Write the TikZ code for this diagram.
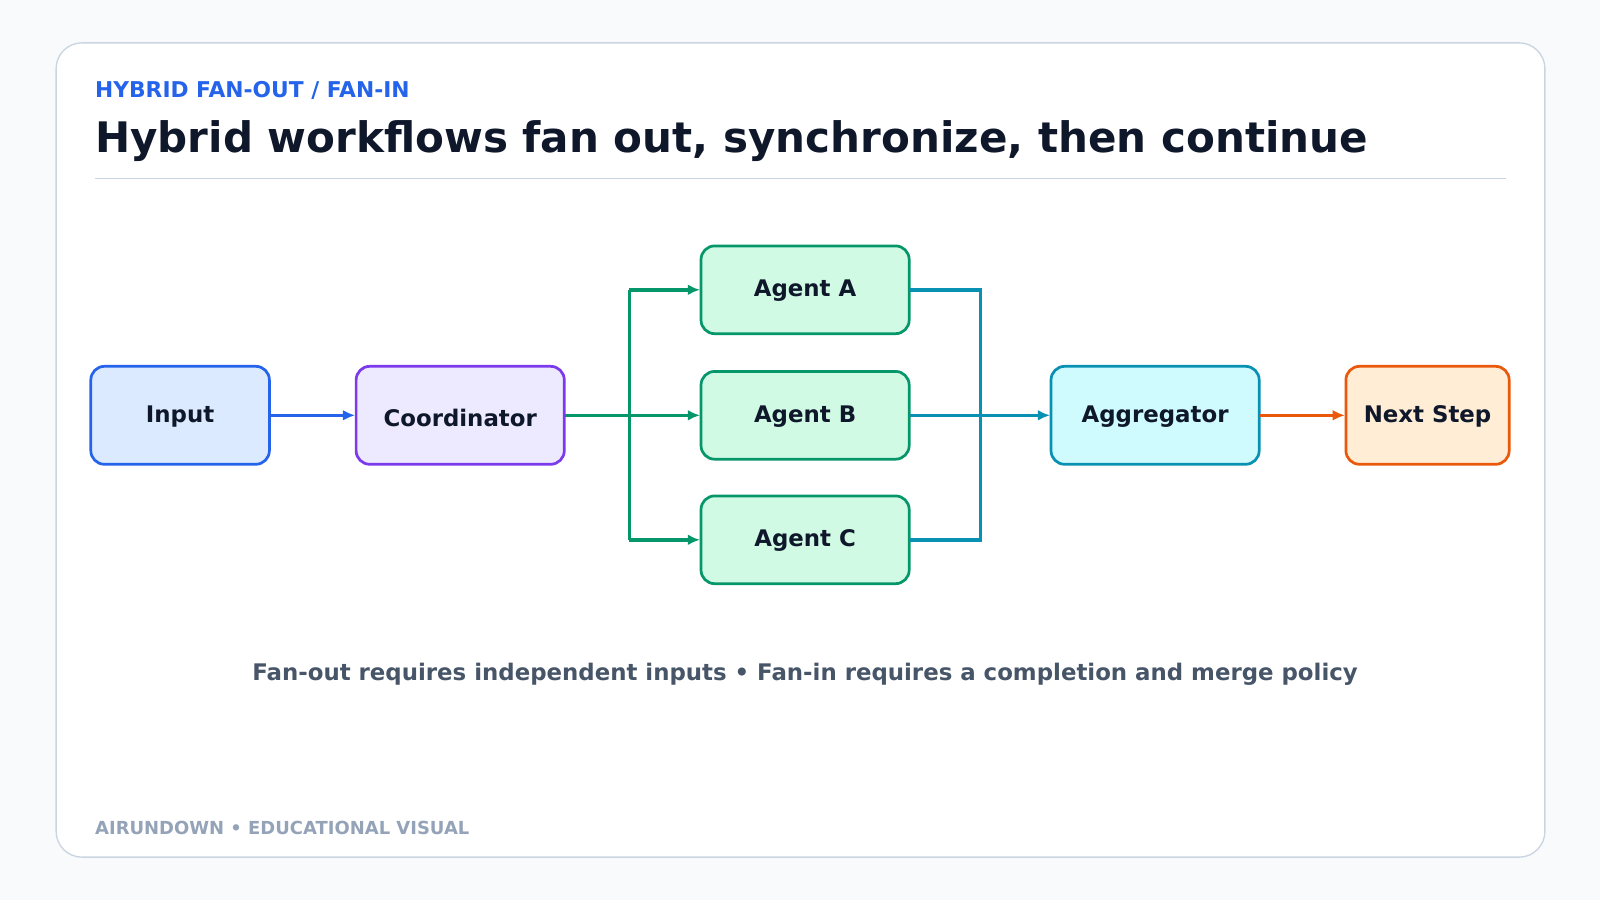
\documentclass[tikz,border=0pt]{standalone}
\usepackage{fontspec}
\setmainfont{DejaVu Sans}
\usetikzlibrary{arrows.meta}
\definecolor{bg}{HTML}{F8FAFC}
\definecolor{bord}{HTML}{CBD5E1}
\definecolor{blu}{HTML}{2563EB}
\definecolor{bluf}{HTML}{DBEAFE}
\definecolor{pur}{HTML}{7C3AED}
\definecolor{purf}{HTML}{EDE9FE}
\definecolor{grn}{HTML}{059669}
\definecolor{grnf}{HTML}{D1FAE5}
\definecolor{tea}{HTML}{0891B2}
\definecolor{teaf}{HTML}{CFFAFE}
\definecolor{org}{HTML}{EA580C}
\definecolor{orgf}{HTML}{FFEDD5}
\definecolor{ink}{HTML}{0F172A}
\definecolor{cap}{HTML}{475569}
\definecolor{foot}{HTML}{94A3B8}
\begin{document}
\begin{tikzpicture}[x=0.75pt,y=-0.75pt,
  box/.style={draw=#1,line width=2pt,rounded corners=10pt},
  lab/.style={font=\fontsize{16.8}{20}\selectfont\bfseries,text=ink},
  con/.style={line width=2.6pt,draw=#1,-{Latex[length=9pt,width=8pt]}},
  lin/.style={line width=2.6pt,draw=#1}]
\fill[bg] (0,0) rectangle (1568,882);
\useasboundingbox (0,0) rectangle (1568,882);
\draw[bord,fill=white,line width=1pt,rounded corners=19pt] (55,42) rectangle (1514,840);
\node[anchor=base west,text=blu,font=\fontsize{16}{18}\selectfont\bfseries,inner sep=0] (sub) at (93,96) {HYBRID FAN-OUT / FAN-IN};
\node[anchor=base west,text=ink,font=\fontsize{30.9}{36}\selectfont\bfseries,inner sep=0] (ttl) at (93,149) {Hybrid workflows fan out, synchronize, then continue};
\draw[bord,line width=1pt] (93,175) -- (1476,175);
\path[box=blu,fill=bluf] (89,359) rectangle (264,455);
\node[lab] (in) at (176.5,408) {Input};
\path[box=pur,fill=purf] (349,359) rectangle (553,455);
\node[lab] (co) at (451,410) {Coordinator};
\path[box=grn,fill=grnf] (687,241) rectangle (891,327);
\node[lab] (a) at (789,285) {Agent A};
\path[box=grn,fill=grnf] (687,364) rectangle (891,450);
\node[lab] (b) at (789,408) {Agent B};
\path[box=grn,fill=grnf] (687,486) rectangle (891,572);
\node[lab] (c) at (789,530) {Agent C};
\path[box=tea,fill=teaf] (1030,359) rectangle (1234,455);
\node[lab] (ag) at (1132,408) {Aggregator};
\path[box=org,fill=orgf] (1319,359) rectangle (1479,455);
\node[lab] (nx) at (1399,408) {Next Step};
\coordinate (s) at (617,407);
\coordinate (m) at (961,407);
\draw[con=blu] (265,407) -- (348,407);
\draw[lin=grn] (554,407) -- (s);
\draw[lin=grn] (617,284) -- (617,529);
\draw[con=grn] (616,284) -- (686,284);
\draw[con=grn] (s) -- (686,407);
\draw[con=grn] (616,529) -- (686,529);
\draw[lin=tea] (892,284) -- (961,284) -- (961,529) -- (892,529);
\draw[con=tea] (892,407) -- (1029,407);
\draw[con=org] (1235,407) -- (1318,407);
\node[text=cap,font=\fontsize{16.8}{20}\selectfont\bfseries] (capt) at (789,661) {Fan-out requires independent inputs • Fan-in requires a completion and merge policy};
\node[anchor=base west,inner sep=0,text=foot,font=\fontsize{13.2}{16}\selectfont\bfseries] (ft) at (93,818) {AIRUNDOWN • EDUCATIONAL VISUAL};
\end{tikzpicture}
\end{document}
